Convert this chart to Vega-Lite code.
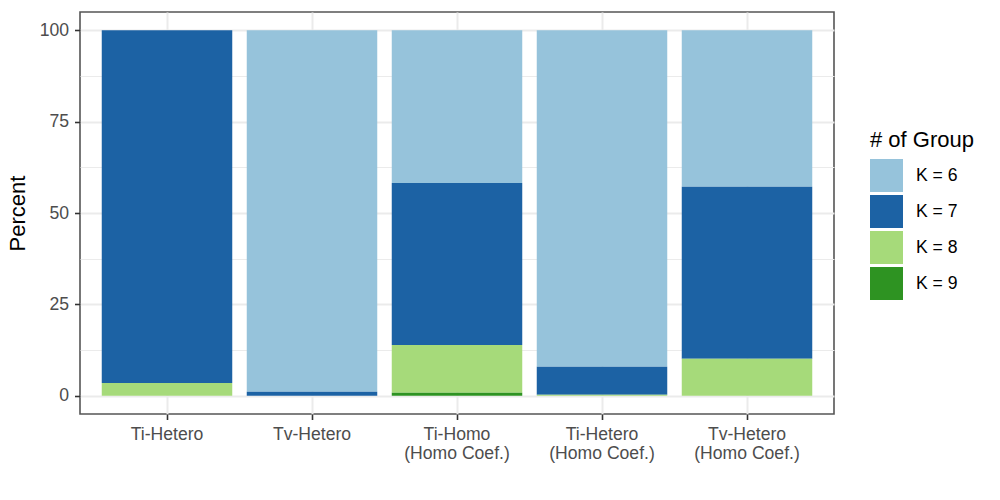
{
  "$schema": "https://vega.github.io/schema/vega-lite/v6.json",
  "width": 754,
  "height": 402,
  "autosize": "none",
  "padding": {"left": 80, "top": 12, "right": 166, "bottom": 86},
  "data": {
    "values": [
      {"model": "Ti-Hetero", "K": "K = 6", "k": 6, "pct": 0},
      {"model": "Ti-Hetero", "K": "K = 7", "k": 7, "pct": 96.5},
      {"model": "Ti-Hetero", "K": "K = 8", "k": 8, "pct": 3.5},
      {"model": "Tv-Hetero", "K": "K = 6", "k": 6, "pct": 98.9},
      {"model": "Tv-Hetero", "K": "K = 7", "k": 7, "pct": 1.1},
      {"model": "Ti-Homo (Homo Coef.)", "K": "K = 6", "k": 6, "pct": 41.8},
      {"model": "Ti-Homo (Homo Coef.)", "K": "K = 7", "k": 7, "pct": 44.3},
      {"model": "Ti-Homo (Homo Coef.)", "K": "K = 8", "k": 8, "pct": 13.1},
      {"model": "Ti-Homo (Homo Coef.)", "K": "K = 9", "k": 9, "pct": 0.8},
      {"model": "Ti-Hetero (Homo Coef.)", "K": "K = 6", "k": 6, "pct": 92.1},
      {"model": "Ti-Hetero (Homo Coef.)", "K": "K = 7", "k": 7, "pct": 7.6},
      {"model": "Ti-Hetero (Homo Coef.)", "K": "K = 8", "k": 8, "pct": 0.3},
      {"model": "Tv-Hetero (Homo Coef.)", "K": "K = 6", "k": 6, "pct": 42.8},
      {"model": "Tv-Hetero (Homo Coef.)", "K": "K = 7", "k": 7, "pct": 47.1},
      {"model": "Tv-Hetero (Homo Coef.)", "K": "K = 8", "k": 8, "pct": 10.1}
    ]
  },
  "mark": {"type": "bar"},
  "encoding": {
    "x": {
      "field": "model",
      "type": "nominal",
      "sort": ["Ti-Hetero", "Tv-Hetero", "Ti-Homo (Homo Coef.)", "Ti-Hetero (Homo Coef.)", "Tv-Hetero (Homo Coef.)"],
      "scale": {"paddingInner": 0.1, "paddingOuter": 0.15},
      "axis": {
        "title": null,
        "labelAngle": 0,
        "bandPosition": 0.5,
        "grid": true,
        "gridColor": "#EBEBEB",
        "gridWidth": 2,
        "tickSize": 5.5,
        "tickWidth": 1.6,
        "tickColor": "#333333",
        "domain": false,
        "labelPadding": 6,
        "labelFontSize": 17.6,
        "labelColor": "#4D4D4D",
        "labelLineHeight": 18.5,
        "labelExpr": "split(replace(datum.label, ' (', '|('), '|')"
      }
    },
    "y": {
      "field": "pct",
      "type": "quantitative",
      "stack": "zero",
      "scale": {"domain": [-5, 105], "nice": false},
      "axis": {
        "title": "Percent",
        "titleFontSize": 22,
        "titleFontWeight": "normal",
        "titleColor": "#000000",
        "titlePadding": 10,
        "values": [0, 12.5, 25, 37.5, 50, 62.5, 75, 87.5, 100],
        "labelExpr": "datum.value % 25 == 0 ? datum.label : ''",
        "grid": true,
        "gridColor": "#EBEBEB",
        "gridWidth": {"condition": {"test": "datum.value % 25 == 0", "value": 2}, "value": 1},
        "tickSize": 5.5,
        "tickWidth": 1.6,
        "tickColor": {"condition": {"test": "datum.value % 25 == 0", "value": "#333333"}, "value": "transparent"},
        "domain": false,
        "labelPadding": 6,
        "labelFontSize": 17.6,
        "labelColor": "#4D4D4D"
      }
    },
    "color": {
      "field": "K",
      "type": "nominal",
      "scale": {
        "domain": ["K = 6", "K = 7", "K = 8", "K = 9"],
        "range": ["#96C3DB", "#1C62A4", "#A6DA7A", "#2E9322"]
      },
      "legend": {
        "title": "# of Group",
        "orient": "none",
        "legendX": 790,
        "legendY": 118,
        "padding": 0,
        "titleFontSize": 22,
        "titleFontWeight": "normal",
        "titleColor": "#000000",
        "titlePadding": 7,
        "symbolType": "square",
        "symbolSize": 1089,
        "symbolStrokeWidth": 0,
        "symbolOpacity": 1,
        "rowPadding": 3,
        "labelFontSize": 17.6,
        "labelColor": "#000000",
        "labelOffset": 13
      }
    },
    "order": {"field": "k", "type": "quantitative", "sort": "descending"}
  },
  "config": {
    "font": "Liberation Sans",
    "view": {"stroke": "#555555", "strokeWidth": 1.6},
    "background": "#FFFFFF"
  }
}
